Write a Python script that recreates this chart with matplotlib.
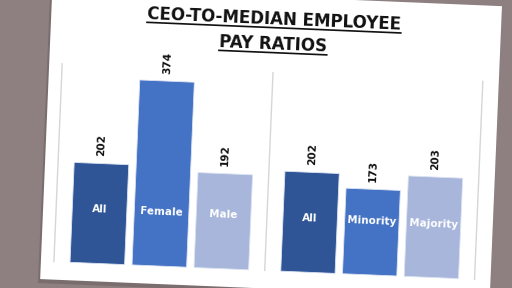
import numpy as np
import matplotlib.pyplot as plt
from matplotlib.transforms import Affine2D, IdentityTransform
from matplotlib.patches import Rectangle
from matplotlib.lines import Line2D

# data
gender_labels = ['All', 'Female', 'Male']
gender_values = [202, 374, 192]
group_labels = ['All', 'Minority', 'Majority']
group_values = [202, 173, 203]
bar_colors = ['#2F5597', '#4472C4', '#A8B6DB']
title_lines = ['CEO-TO-MEDIAN EMPLOYEE', 'PAY RATIOS']

W, H, DPI = 512, 288, 100
TILT = -2.4  # slide is photographed slightly rotated

fig = plt.figure(figsize=(W / DPI, H / DPI), dpi=DPI)
fig.patch.set_facecolor('#8E7F80')
rot = Affine2D().rotate_deg_around(W / 2, H / 2, TILT)

# the slide itself (pixel coords, y up)
shadow = Rectangle((44, -4), 452, 292, transform=IdentityTransform() + rot,
                   facecolor='#6E6263', edgecolor='none', zorder=-3, alpha=0.6)
slide = Rectangle((46, 0), 450, 292, transform=IdentityTransform() + rot,
                  facecolor='white', edgecolor='none', zorder=-2)
fig.add_artist(shadow)
fig.add_artist(slide)


def draw_panel(rect, labels, values, right_line=False):
    ax = fig.add_axes(rect)
    ax.axis('off')
    ax.set_xlim(-0.70, 2.70)
    ax.set_ylim(0, 400)
    x = np.arange(len(values))
    bars = ax.bar(x, values, width=0.88, color=bar_colors,
                  edgecolor='#DCE3F2', linewidth=0.6, clip_on=False)
    for b in bars:
        b.set_transform(ax.transData + rot)
    for xi, v, lab in zip(x, values, labels):
        ax.text(xi, v + 15, str(v), rotation=90, ha='center', va='bottom',
                fontsize=7.5, fontweight='bold', color='#111111',
                transform=ax.transData + rot, transform_rotates_text=True)
        ax.text(xi, 109, lab, ha='center', va='center', fontsize=7.5,
                fontweight='bold', color='white',
                transform=ax.transData + rot, transform_rotates_text=True)
    edges = [0, 1] if right_line else [0]
    for e in edges:
        ln = Line2D([e, e], [0, 1], color='#D6D6D6', lw=1.0,
                    transform=ax.transAxes + rot, clip_on=False)
        ax.add_line(ln)
    return ax


draw_panel([59 / W, 18 / H, 211 / W, 198 / H], gender_labels, gender_values)
draw_panel([270 / W, 18 / H, 210 / W, 198 / H], group_labels, group_values,
           right_line=True)

# title with underline
renderer = fig.canvas.get_renderer()
for i, line in enumerate(title_lines):
    y_px = H - (19 + 25 * i)
    t = fig.text(269 / W, y_px / H, line, ha='center', va='center',
                 fontsize=12, fontweight='bold', color='#111111')
    bb = t.get_window_extent(renderer)
    t.set_transform(fig.transFigure + rot)
    t.set_transform_rotates_text(True)
    ul = Line2D([bb.x0, bb.x1], [bb.y0 + 1, bb.y0 + 1], color='#111111',
                lw=1.2, transform=IdentityTransform() + rot)
    fig.add_artist(ul)

fig.savefig('out.png', dpi=DPI, facecolor=fig.get_facecolor())
